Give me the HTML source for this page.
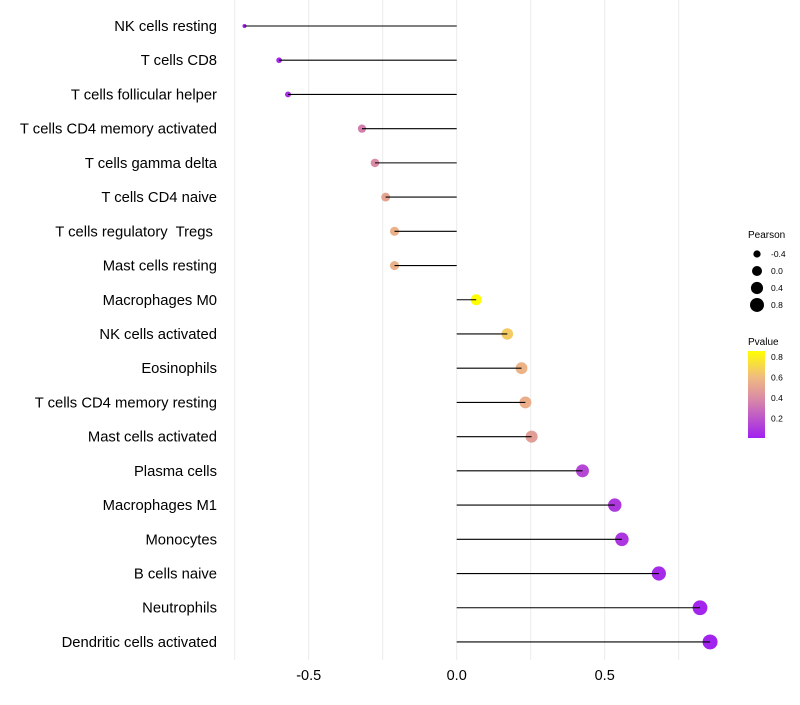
<!DOCTYPE html>
<html><head><meta charset="utf-8"><style>
body{margin:0;background:#fff;font-family:"Liberation Sans",sans-serif}
</style></head><body>
<svg id="chart" width="800" height="700" xmlns="http://www.w3.org/2000/svg" font-family="Liberation Sans, sans-serif">
<defs><linearGradient id="pg" x1="0" y1="1" x2="0" y2="0">
<stop offset="0" stop-color="#a020f0"/><stop offset="0.45" stop-color="#d98aa5"/><stop offset="0.7" stop-color="#f0bb80"/><stop offset="1" stop-color="#ffff00"/></linearGradient></defs>
<g id="grid"></g><g id="points"></g><g id="marks"></g><g id="labels"></g><g id="xaxis"></g>
<g>
<text x="748" y="238" font-size="10" fill="#000">Pearson</text>
<g id="sizeLegend"></g>
<text x="748" y="345" font-size="10" fill="#000">Pvalue</text>
<rect x="748" y="351" width="17" height="87" fill="url(#pg)"/>
<g id="colorTicks"></g>
</g>
</svg>
<script>
const categories=["NK cells resting","T cells CD8","T cells follicular helper","T cells CD4 memory activated","T cells gamma delta","T cells CD4 naive","T cells regulatory  Tregs ","Mast cells resting","Macrophages M0","NK cells activated","Eosinophils","T cells CD4 memory resting","Mast cells activated","Plasma cells","Macrophages M1","Monocytes","B cells naive","Neutrophils","Dendritic cells activated"];
const pearson=[-0.717,-0.60,-0.57,-0.32,-0.276,-0.24,-0.21,-0.21,0.066,0.171,0.219,0.232,0.253,0.425,0.534,0.558,0.683,0.822,0.856];
const pvalue=[0.03,0.04,0.06,0.35,0.4,0.5,0.56,0.56,0.86,0.66,0.57,0.55,0.48,0.15,0.1,0.09,0.05,0.03,0.02];
const xTicks=[-0.5,0,0.5];
const xTickLabels=["-0.5","0.0","0.5"];
const gridVals=[-0.75,-0.5,-0.25,0,0.25,0.5,0.75];
const sizeLegendVals=[-0.4,0.0,0.4,0.8];
const colorLegendVals=[0.2,0.4,0.6,0.8];
const NS="http://www.w3.org/2000/svg";
const x=v=>456.7+v*296;
const y=i=>26+i*34.22;
const r=v=>Math.sqrt(Math.max(1,4+(v+0.72)/1.58*52));
const stops=[[0,[160,32,240]],[0.45,[217,138,165]],[0.7,[240,187,128]],[1,[255,255,0]]];
function col(p){let t=(p-0.01)/0.85;t=Math.max(0,Math.min(1,t));
for(let k=1;k<stops.length;k++){if(t<=stops[k][0]){const a=stops[k-1],b=stops[k],u=(t-a[0])/(b[0]-a[0]);
return 'rgb('+a[1].map((c,j)=>Math.round(c+(b[1][j]-c)*u)).join(',')+')';}}return 'rgb(255,255,0)';}
function mk(t,attrs,parent){const e=document.createElementNS(NS,t);for(const k in attrs)e.setAttribute(k,attrs[k]);document.getElementById(parent).appendChild(e);return e;}
gridVals.forEach(v=>{const l=mk('line',{x1:x(v),x2:x(v),y1:0,y2:660,stroke:'#ebebeb','stroke-width':1},'grid');

});
categories.forEach((c,i)=>{
const p=mk('circle',{cx:x(pearson[i]),cy:y(i),r:r(pearson[i]),fill:col(pvalue[i])},'points');


const s=mk('line',{x1:x(0),x2:x(pearson[i]),y1:y(i),y2:y(i),stroke:'#000','stroke-width':1.1},'marks');


const t=mk('text',{x:217,y:y(i)+5,'text-anchor':'end','font-size':14.8,fill:'#000','xml:space':'preserve'},'labels');
t.style.whiteSpace='pre';
t.textContent=c;

});
xTicks.forEach((v,i)=>{const t=mk('text',{x:x(v),y:680,'text-anchor':'middle','font-size':14.5,fill:'#000'},'xaxis');
t.textContent=xTickLabels[i];

});
sizeLegendVals.forEach((v,i)=>{const cy=254+i*17;
const c=mk('circle',{cx:757,cy:cy,r:r(v)*0.95,fill:'#000'},'sizeLegend');


const t=mk('text',{x:771,y:cy+3,'font-size':8.5,fill:'#000'},'sizeLegend');
t.textContent=v.toFixed(1);

});
colorLegendVals.forEach(v=>{const cy=438-(v-0.01)/0.85*87;
const t=mk('text',{x:771,y:cy+3,'font-size':8.5,fill:'#000'},'colorTicks');
t.textContent=v.toFixed(1);

});
</script>
</body></html>
